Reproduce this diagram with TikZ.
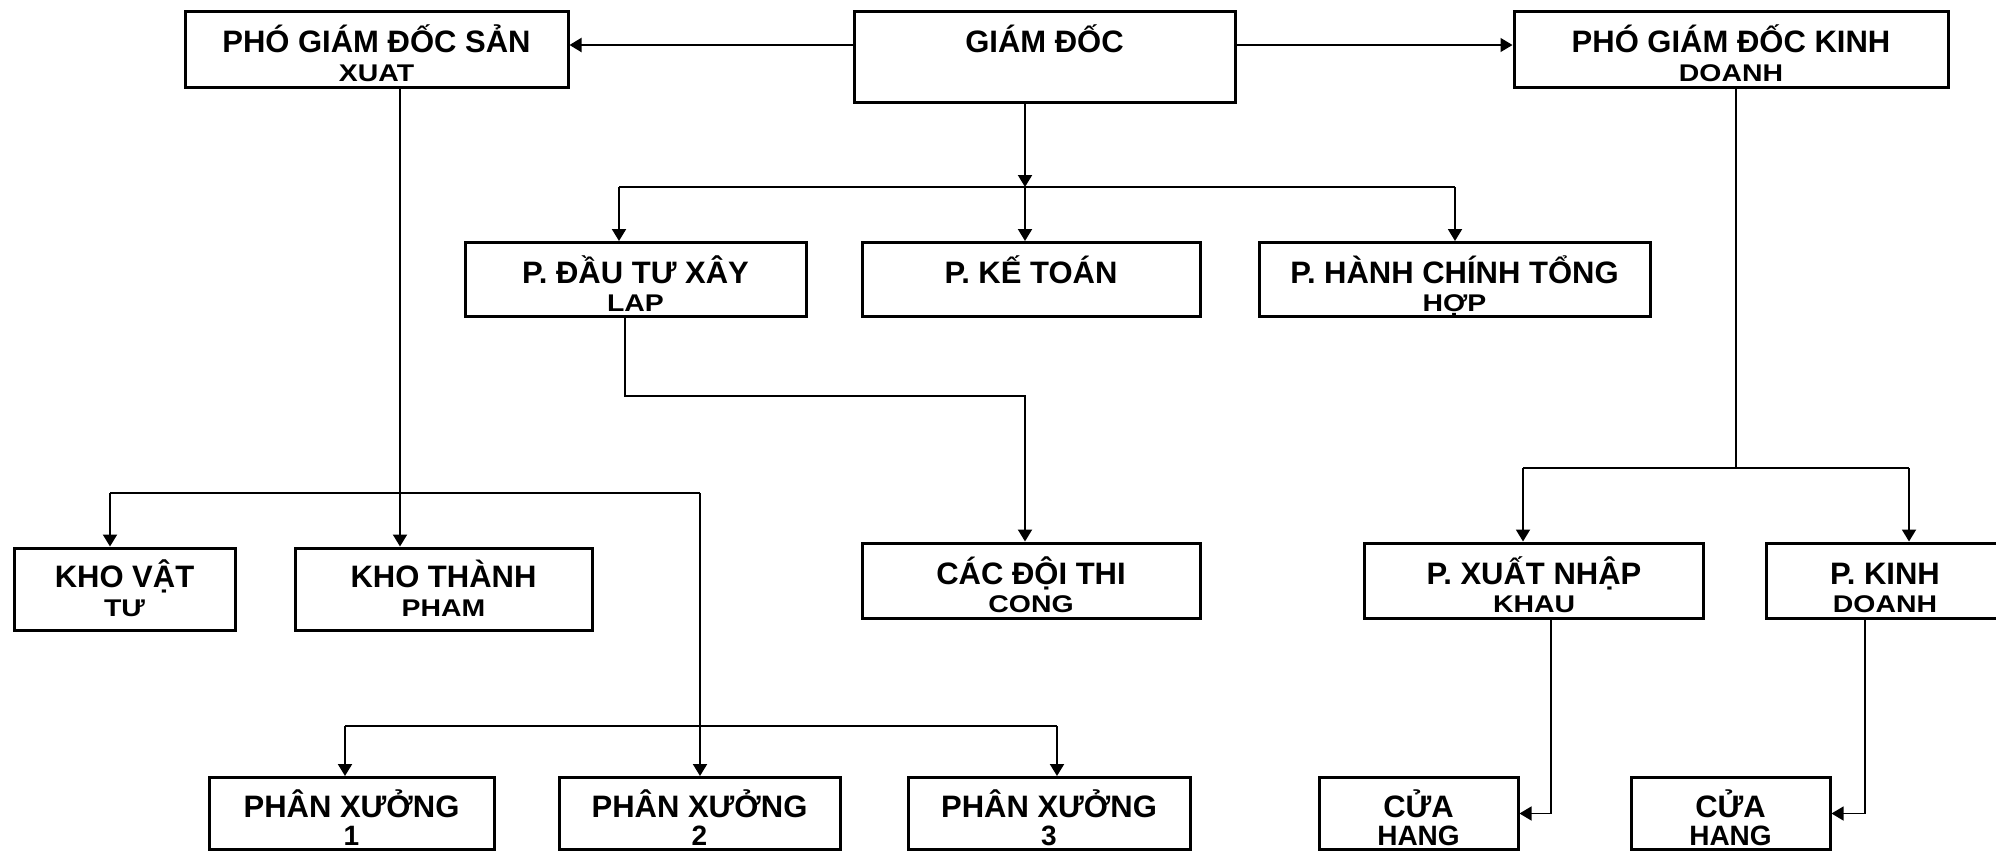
\documentclass[tikz,border=0pt]{standalone}
\usepackage{fontspec}
\usepackage{graphicx}
\setmainfont{Liberation Sans}
\usetikzlibrary{arrows.meta,positioning}

\setlength{\lineskiplimit}{-1000pt}
\newcommand{\nho}[1]{\scalebox{1}[0.85]{\fontsize{14.2}{14.2}\selectfont #1}}
\newcommand{\vua}[1]{{\fontsize{14}{14.2}\selectfont #1}}

\begin{document}
\begin{tikzpicture}[
      x=0.5pt, y=-0.5pt,
      khoi/.style={draw, line width=1.5pt, inner sep=0pt, align=center,
        text height=34pt, text depth=2pt,
        font=\bfseries\fontsize{15.5}{14.2}\selectfont},
      co/.style 2 args={minimum width=#1pt, minimum height=#2pt},
      noi/.style={line width=1pt},
      noimanh/.style={line width=0.7pt},
      mui/.style={-{Triangle[length=6pt,width=7pt]}}
  ]
    \useasboundingbox (0,0) rectangle (1996,852);
    \clip (0,0) rectangle (1996,852);
    \fill[white] (0,0) rectangle (1996,852);

    % Ban giam doc
    \node[khoi, co={190.5}{45.5}, text depth=9.5pt] (gd) at (1044.5,56.5) {GIÁM ĐỐC\\\mbox{}};
    \node[khoi, co={191.5}{38}] (pgdsx) at (376.5,49) {PHÓ GIÁM ĐỐC SẢN\\\nho{XUAT}};
    \node[khoi, co={217}{38}] (pgdkd) at (1731,49) {PHÓ GIÁM ĐỐC KINH\\\nho{DOANH}};

    % Cac phong ban
    \node[khoi, co={170.5}{37}] (pdt) at (635.5,279.5) {P. ĐẦU TƯ XÂY\\\nho{LAP}};
    \node[khoi, co={169}{37}] (pkt) at (1031,279.5) {P. KẾ TOÁN\\\mbox{}};
    \node[khoi, co={195.5}{37}] (phc) at (1454.5,279.5) {P. HÀNH CHÍNH TỔNG\\\nho{HỢP}};

    % Kho va doi thi cong
    \node[khoi, co={110.5}{36.5}, text depth=7pt] (khovt) at (124.5,589) {KHO VẬT\\\nho{TƯ}};
    \node[khoi, co={148.5}{36.5}, text depth=7pt] (khotp) at (443.5,589) {KHO THÀNH\\\nho{PHAM}};
    \node[khoi, co={169}{37.5}] (cacdoi) at (1031,580.5) {CÁC ĐỘI THI\\\nho{CONG}};
    \node[khoi, co={169.5}{37.5}] (pxnk) at (1534,580.5) {P. XUẤT NHẬP\\\nho{KHAU}};
    \node[khoi, co={119}{37.5}] (pkd) at (1885,580.5) {P. KINH\\\nho{DOANH}};

    % Phan xuong va cua hang
    \node[khoi, co={142.5}{35.5}] (px1) at (351.5,813.5) {PHÂN XƯỞNG\\\vua{1}};
    \node[khoi, co={140.5}{35.5}] (px2) at (699.5,813.5) {PHÂN XƯỞNG\\\vua{2}};
    \node[khoi, co={141}{35.5}] (px3) at (1049,813.5) {PHÂN XƯỞNG\\\vua{3}};
    \node[khoi, co={99.5}{35.5}] (ch1) at (1418.5,813.5) {CỬA\\\vua{HANG}};
    \node[khoi, co={99.5}{35.5}] (ch2) at (1730.5,813.5) {CỬA\\\vua{HANG}};

    % Giam doc -> pho giam doc
    \coordinate (tren) at (0,45);
    \draw[noi, mui] (gd.west |- tren) -- (pgdsx.east |- tren);
    \draw[noimanh, mui] (gd.east |- tren) -- (pgdkd.west |- tren);

    % Giam doc -> phong ban
    \coordinate (ngang1) at (1025,187);
    \coordinate (ngang1t) at (619,187);
    \coordinate (ngang1p) at (1455,187);
    \draw[noi, mui] (gd.south -| ngang1) -- (ngang1);
    \draw[noi] (ngang1t) -- (ngang1p);
    \draw[noi, mui] (ngang1t) -- (ngang1t |- pdt.north);
    \draw[noi, mui] (ngang1) -- (ngang1 |- pkt.north);
    \draw[noi, mui] (ngang1p) -- (ngang1p |- phc.north);

    % P. dau tu -> doi thi cong
    \coordinate (gap1) at (625,396);
    \coordinate (gap2) at (1025,396);
    \draw[noi, mui] (pdt.south -| gap1) -- (gap1) -- (gap2) -- (gap2 |- cacdoi.north);

    % Pho giam doc san xuat
    \coordinate (sx) at (400,493);
    \coordinate (kho1) at (110,493);
    \coordinate (kho2) at (700,493);
    \draw[noi, mui] (pgdsx.south -| sx) -- (sx |- khotp.north);
    \draw[noimanh] (kho1) -- (kho2);
    \draw[noi, mui] (kho1) -- (kho1 |- khovt.north);
    \draw[noi, mui] (kho2) -- (kho2 |- px2.north);
    \coordinate (xg1) at (345,726);
    \coordinate (xg3) at (1057,726);
    \draw[noi] (xg1) -- (xg3);
    \draw[noi, mui] (xg1) -- (xg1 |- px1.north);
    \draw[noi, mui] (xg3) -- (xg3 |- px3.north);

    % Pho giam doc kinh doanh
    \coordinate (kd) at (1736,468);
    \coordinate (kd1) at (1523,468);
    \coordinate (kd2) at (1909,468);
    \draw[noimanh] (pgdkd.south -| kd) -- (kd);
    \draw[noimanh] (kd1) -- (kd2);
    \draw[noi, mui] (kd1) -- (kd1 |- pxnk.north);
    \draw[noi, mui] (kd2) -- (kd2 |- pkd.north);
    \coordinate (xn) at (1551,814);
    \coordinate (kdx) at (1865,814);
    \draw[noimanh, mui] (pxnk.south -| xn) |- (ch1.east);
    \draw[noimanh, mui] (pkd.south -| kdx) |- (ch2.east);
\end{tikzpicture}
\end{document}
